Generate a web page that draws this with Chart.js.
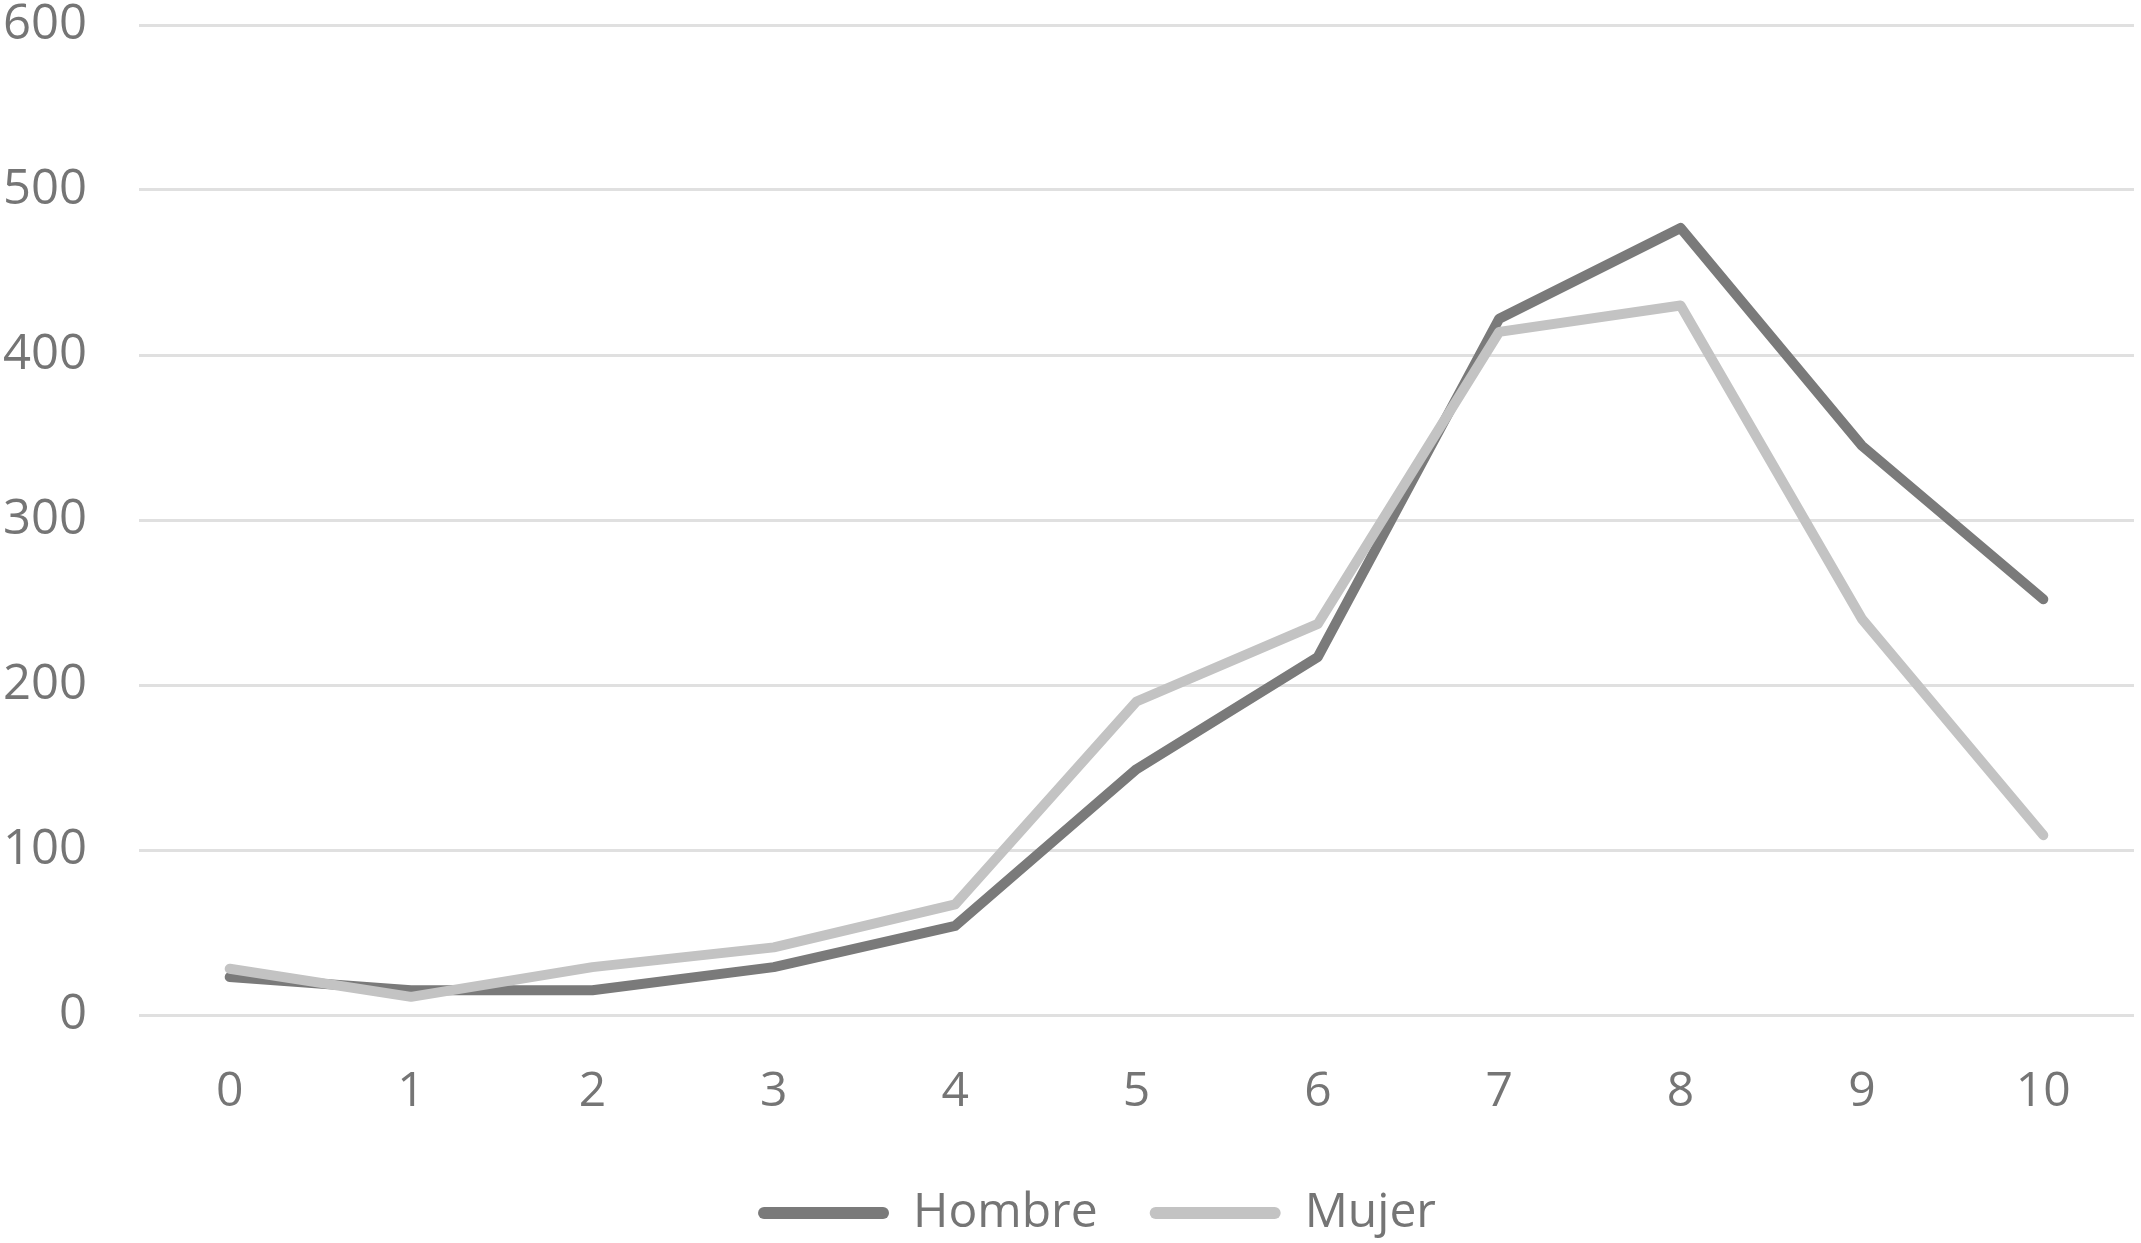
<!DOCTYPE html>
<html>
<head>
<meta charset="utf-8">
<script src="https://cdn.jsdelivr.net/npm/chart.js@4/dist/chart.umd.min.js"></script>
<style>
html,body{margin:0;padding:0;background:#fff;}
#wrap{width:2141px;height:1243px;position:relative;}
</style>
</head>
<body>
<div id="wrap"><canvas id="c"></canvas></div>
<script>
const categories = ['0','1','2','3','4','5','6','7','8','9','10'];
const hombre = [23, 15, 15, 29, 54, 149, 217, 422, 477, 345, 252];
const mujer  = [28, 11, 29, 41, 67, 190, 237, 414, 430, 240, 109];
const seriesNames = ['Hombre', 'Mujer'];
const yTicks = [0, 100, 200, 300, 400, 500, 600];

const FONT = "'Open Sans', 'Noto Sans', sans-serif";
const TXT = '#757575';

const legendShift = {
  id: 'legendShift',
  afterLayout(chart) {
    const l = chart.legend;
    if (l) { l.left += 30; l.right += 30; }
  }
};

new Chart(document.getElementById('c'), {
  type: 'line',
  data: {
    labels: categories,
    datasets: [
      { label: seriesNames[0], data: hombre, borderColor: '#7a7a7a', backgroundColor: '#7a7a7a',
        borderWidth: 10, pointRadius: 0, tension: 0, borderCapStyle: 'round', borderJoinStyle: 'round', order: 1 },
      { label: seriesNames[1], data: mujer, borderColor: '#c3c3c3', backgroundColor: '#c3c3c3',
        borderWidth: 10, pointRadius: 0, tension: 0, borderCapStyle: 'round', borderJoinStyle: 'round', order: 0 }
    ]
  },
  plugins: [legendShift],
  options: {
    responsive: true,
    maintainAspectRatio: false,
    animation: false,
    layout: { padding: { left: 0, right: 7, top: 0, bottom: -4 } },
    plugins: {
      tooltip: { enabled: false },
      legend: {
        position: 'bottom',
        labels: {
          font: { family: FONT, size: 48 },
          color: TXT,
          boxWidth: 131,
          boxHeight: 12,
          useBorderRadius: true,
          borderRadius: 6,
          padding: 52,
          sort: (a, b) => a.datasetIndex - b.datasetIndex,
          generateLabels: (chart) => {
            const items = Chart.defaults.plugins.legend.labels.generateLabels(chart);
            items.forEach(it => { it.lineWidth = 0; it.strokeStyle = 'rgba(0,0,0,0)'; it.borderRadius = 6; });
            return items;
          }
        }
      }
    },
    scales: {
      x: {
        offset: true,
        grid: { display: false },
        border: { display: false },
        ticks: { font: { family: FONT, size: 48 }, color: TXT, padding: 41, maxRotation: 0 },
        afterFit: (s) => { s.height = 122; }
      },
      y: {
        min: 0, max: 600,
        afterBuildTicks: (axis) => { axis.ticks = yTicks.map(v => ({ value: v })); },
        grid: { color: '#e0e0e0', lineWidth: 3, drawTicks: false },
        border: { display: false },
        ticks: { font: { family: FONT, size: 49, lineHeight: 1.0 }, color: TXT, padding: 52 },
        afterFit: (s) => { s.width = 139; s.paddingTop = 25; s.paddingBottom = 0; }
      }
    }
  }
});
</script>
</body>
</html>
